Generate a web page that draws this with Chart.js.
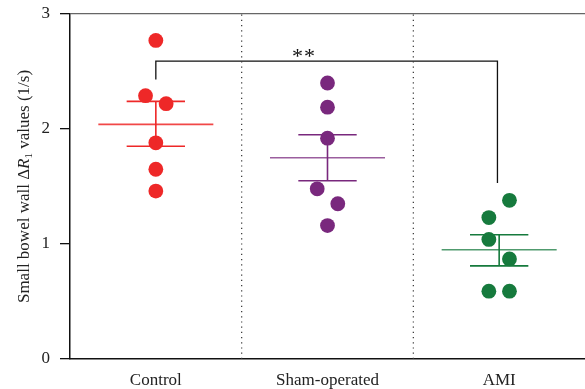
<!DOCTYPE html>
<html>
<head>
<meta charset="utf-8">
<script src="https://cdn.jsdelivr.net/npm/chart.js@4.4.1/dist/chart.umd.min.js"></script>
<style>
  html, body { margin: 0; padding: 0; background: #fff; }
  #wrap { width: 585px; height: 389px; }
</style>
</head>
<body>
<div id="wrap"><canvas id="graph"></canvas></div>
<script>
// groupes et valeurs
const categories = ['Control', 'Sham-operated', 'AMI'];
const yTicks = [0, 1, 2, 3];

// valeurs individuelles (y) et décalage horizontal des points (jitter)
const controlValues = [2.77, 2.29, 2.22, 1.88, 1.65, 1.46];
const controlJitter = [0, -0.06, 0.06, 0, 0, 0];
const shamValues = [2.40, 2.19, 1.92, 1.48, 1.35, 1.16];
const shamJitter = [0, 0, 0, -0.06, 0.06, 0];
const amiValues = [1.38, 1.23, 1.04, 0.87, 0.59, 0.59];
const amiJitter = [0.06, -0.06, -0.06, 0.06, -0.06, 0.06];

// moyenne et barres SEM
const means = [2.04, 1.75, 0.95];
const semHigh = [2.24, 1.95, 1.08];
const semLow = [1.85, 1.55, 0.81];

// crochet de significativité Control vs AMI
const bracketX = [0.5, 0.5, 2.49, 2.49];
const bracketY = [2.43, 2.59, 2.59, 1.53];
const starsLabel = '**';

const colors = { control: '#ee2828', sham: '#79287d', ami: '#167a3d' };
const meanColors = ['rgba(238,40,40,0.85)', 'rgba(121,40,125,0.75)', 'rgba(22,122,61,0.75)'];
const groupColors = [colors.control, colors.sham, colors.ami];
const serif = '"Liberation Serif", "DejaVu Serif", serif';

function pts(values, jitter, idx) {
    return values.map((v, i) => ({ x: idx + 0.5 + jitter[i], y: v }));
}

function meanSem(idx) {
    const c = idx + 0.5;
    return [
        { x: c - 0.335, y: means[idx] }, { x: c + 0.335, y: means[idx] }, { x: c, y: null },
        { x: c - 0.17, y: semHigh[idx] }, { x: c + 0.17, y: semHigh[idx] }, { x: c, y: null },
        { x: c - 0.17, y: semLow[idx] }, { x: c + 0.17, y: semLow[idx] }, { x: c, y: null },
        { x: c, y: semLow[idx] }, { x: c, y: semHigh[idx] }
    ];
}

const lineBase = { type: 'line', showLine: true, pointRadius: 0, spanGaps: false, fill: false };

const datasets = [
    // séparateurs pointillés
    Object.assign({}, lineBase, { data: [{ x: 1, y: 0 }, { x: 1, y: 3 }], borderColor: '#333', borderWidth: 1.2, borderDash: [1.2, 4] }),
    Object.assign({}, lineBase, { data: [{ x: 2, y: 0 }, { x: 2, y: 3 }], borderColor: '#333', borderWidth: 1.2, borderDash: [1.2, 4] }),
    // crochet
    Object.assign({}, lineBase, { data: bracketX.map((x, i) => ({ x: x, y: bracketY[i] })), borderColor: '#111', borderWidth: 1.3 }),
];

[0, 1, 2].forEach(i => {
    datasets.push(Object.assign({}, lineBase, { data: meanSem(i).slice(0, 3), borderColor: meanColors[i], borderWidth: 1.6 }));
    datasets.push(Object.assign({}, lineBase, { data: meanSem(i).slice(3), borderColor: groupColors[i], borderWidth: 1.6 }));
});

datasets.push({ type: 'scatter', data: pts(controlValues, controlJitter, 0), backgroundColor: colors.control, pointRadius: 7.4, borderWidth: 0 });
datasets.push({ type: 'scatter', data: pts(shamValues, shamJitter, 1), backgroundColor: colors.sham, pointRadius: 7.4, borderWidth: 0 });
datasets.push({ type: 'scatter', data: pts(amiValues, amiJitter, 2), backgroundColor: colors.ami, pointRadius: 7.4, borderWidth: 0 });

// titre de l'axe Y avec R italique et indice 1, plus les étoiles
const extraText = {
    id: 'extraText',
    afterDraw(chart) {
        const ctx = chart.ctx;
        const area = chart.chartArea;
        const parts = [
            { t: 'Small bowel wall \u0394', f: '17px ' + serif, dy: 0 },
            { t: 'R', f: 'italic 17px ' + serif, dy: 0 },
            { t: '1', f: '11px ' + serif, dy: 4 },
            { t: ' values (1/s)', f: '17px ' + serif, dy: 0 }
        ];
        ctx.save();
        ctx.fillStyle = '#222';
        let total = 0;
        parts.forEach(p => { ctx.font = p.f; p.w = ctx.measureText(p.t).width; total += p.w; });
        ctx.translate(25, (area.top + area.bottom) / 2);
        ctx.rotate(-Math.PI / 2);
        ctx.textBaseline = 'middle';
        let x = -total / 2;
        parts.forEach(p => { ctx.font = p.f; ctx.fillText(p.t, x, p.dy); x += p.w; });
        ctx.restore();

        const xs = chart.scales.x, ys = chart.scales.y;
        ctx.save();
        ctx.font = '22px ' + serif;
        ctx.fillStyle = '#111';
        ctx.textAlign = 'center';
        ctx.textBaseline = 'alphabetic';
        const px = xs.getPixelForValue(1.36), py = ys.getPixelForValue(2.67);
        [-6, 6].forEach(dx => ctx.fillText(starsLabel.charAt(0), px + dx, py + 11));
        ctx.restore();
    }
};

new Chart(document.getElementById('graph').getContext('2d'), {
    type: 'scatter',
    data: { datasets: datasets },
    plugins: [extraText],
    options: {
        responsive: true,
        maintainAspectRatio: false,
        animation: false,
        layout: { autoPadding: false, padding: { top: 14, right: 0, left: 0, bottom: 0 } },
        plugins: { legend: { display: false }, tooltip: { enabled: false } },
        scales: {
            x: {
                type: 'linear',
                min: 0,
                max: 3,
                afterBuildTicks: (scale) => { scale.ticks = categories.map((c, i) => ({ value: i + 0.5 })); },
                afterFit: (scale) => { scale.height = 30; scale.paddingLeft = 0; scale.paddingRight = 0; },
                ticks: {
                    autoSkip: false,
                    maxRotation: 0,
                    padding: 3,
                    color: '#222',
                    font: { family: serif, size: 17 },
                    callback: (v, i) => categories[i]
                },
                grid: { display: false },
                border: { color: '#111', width: 1.5 }
            },
            y: {
                min: 0,
                max: 3,
                afterBuildTicks: (scale) => { scale.ticks = yTicks.map(v => ({ value: v })); },
                afterFit: (scale) => { scale.width = 70; scale.paddingTop = 0; scale.paddingBottom = 0; },
                ticks: {
                    padding: 10,
                    color: '#222',
                    font: { family: serif, size: 17 }
                },
                grid: {
                    tickLength: 10,
                    tickColor: '#111',
                    color: (c) => (c.tick && c.tick.value === 3) ? '#666' : 'rgba(0,0,0,0)',
                    lineWidth: 1.3
                },
                border: { color: '#111', width: 1.5 }
            }
        }
    }
});
</script>
</body>
</html>
